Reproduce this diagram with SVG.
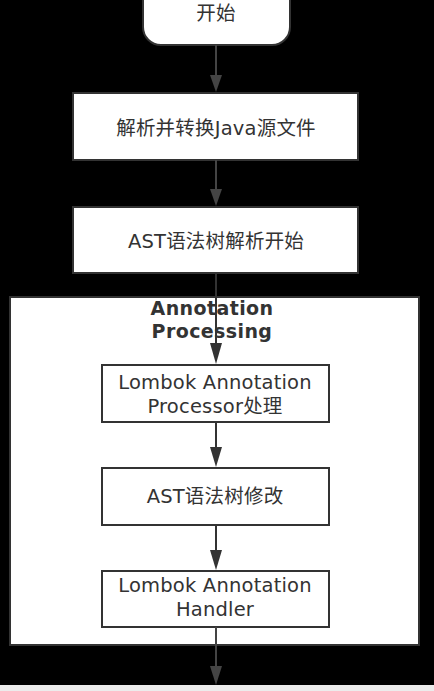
<svg xmlns="http://www.w3.org/2000/svg" width="434" height="691" viewBox="0 0 434 691">
<style>
.t{font-family:"DejaVu Sans","Noto Sans CJK SC",sans-serif;font-size:19.5px;letter-spacing:0.2px;fill:#333;text-anchor:middle}
.b{font-family:"DejaVu Sans","Noto Sans CJK SC",sans-serif;font-size:19px;letter-spacing:0.4px;font-weight:bold;fill:#333;text-anchor:middle}
.box{fill:#fff;stroke:#333;stroke-width:2}
.c{stroke:#333;stroke-width:2;fill:none}
.co{stroke:#444;stroke-width:2;fill:none}
</style>
<rect width="434" height="691" fill="#000"/>
<rect y="685" width="434" height="6" fill="#ececec"/>
<g id="container">
<rect class="box" x="10" y="297" width="409" height="348"/>
<text class="b" x="212" y="315">Annotation</text>
<text class="b" x="212" y="338">Processing</text>
</g>
<g id="start">
<rect class="box" x="143" y="-20" width="147" height="65" rx="18"/>
<text class="t" x="216" y="20">开始</text>
</g>
<g id="n1">
<rect class="box" x="73" y="93" width="285" height="67"/>
<text class="t" x="216" y="135">解析并转换Java源文件</text>
</g>
<g id="n2">
<rect class="box" x="73" y="207" width="285" height="66"/>
<text class="t" x="216" y="248">AST语法树解析开始</text>
</g>
<g id="n3">
<rect class="box" x="102" y="365" width="227" height="57"/>
<text class="t" x="215" y="389">Lombok Annotation</text>
<text class="t" x="215" y="413">Processor处理</text>
</g>
<g id="n4">
<rect class="box" x="102" y="468" width="227" height="57"/>
<text class="t" x="215" y="503">AST语法树修改</text>
</g>
<g id="n5">
<rect class="box" x="102" y="571" width="227" height="56"/>
<text class="t" x="215" y="592">Lombok Annotation</text>
<text class="t" x="215" y="616">Handler</text>
</g>
<g id="connectors">
<path class="co" d="M216,45 L216,76"/><path d="M210,75 L216,92 L222,75 z" fill="#444"/>
<path class="co" d="M216,160 L216,190"/><path d="M210,189 L216,206 L222,189 z" fill="#444"/>
<path class="c" d="M216,273 L216,346"/><path d="M210,343 L216,364 L222,343 z" fill="#333"/>
<path class="c" d="M216,422 L216,450"/><path d="M210,447 L216,467 L222,447 z" fill="#333"/>
<path class="c" d="M216,525 L216,553"/><path d="M210,550 L216,570 L222,550 z" fill="#333"/>
<path class="co" d="M216,627 L216,668"/><path d="M210,666 L216,685 L222,666 z" fill="#444"/>
</g>
</svg>
